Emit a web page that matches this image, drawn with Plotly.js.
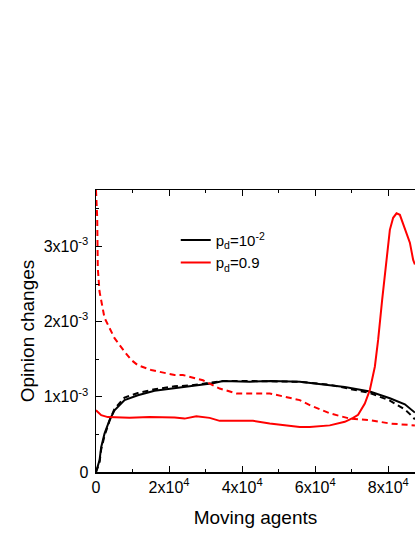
<!DOCTYPE html>
<html>
<head>
<meta charset="utf-8">
<script src="https://cdn.plot.ly/plotly-3.0.1.min.js"></script>
<style>
  html, body { margin: 0; padding: 0; background: #fff; overflow: hidden; }
  #chart { width: 415px; height: 537px; }
</style>
</head>
<body>
<div id="chart"></div>
<script>
// moving agents (x) and opinion changes (x 1e-3)
const xBlack = [0, 960, 1420, 2330, 3700, 5070, 7810, 11450, 16030, 21510, 25620, 32000, 34740, 42050, 48000, 55760, 63980, 68090, 74940, 80420, 84530, 85900, 87270];
const blackSolid = [0, 0.156, 0.33, 0.51, 0.69, 0.82, 0.956, 1.02, 1.08, 1.12, 1.14, 1.18, 1.21, 1.2, 1.21, 1.2, 1.16, 1.13, 1.07, 0.98, 0.9, 0.84, 0.79];
const blackDash = [0, 0.12, 0.3, 0.48, 0.68, 0.84, 0.99, 1.05, 1.10, 1.14, 1.15, 1.19, 1.21, 1.21, 1.21, 1.2, 1.16, 1.12, 1.05, 0.95, 0.83, 0.77, 0.70];

const xRed = [0, 1420, 3230, 9180, 14660, 21510, 24250, 27450, 31100, 33840, 42960, 47540, 55760, 58500, 63980, 68090, 70360, 71730, 73570, 74940, 76310, 77210, 78310, 79510, 80420, 81320, 82250, 83160, 84060, 84990, 85900, 86800, 87270];
const redSolid = [0.82, 0.756, 0.73, 0.72, 0.73, 0.725, 0.71, 0.74, 0.72, 0.68, 0.68, 0.645, 0.6, 0.6, 0.62, 0.667, 0.72, 0.76, 0.91, 1.09, 1.4, 1.756, 2.29, 2.87, 3.22, 3.38, 3.44, 3.42, 3.29, 3.18, 3.05, 2.82, 2.76];

const xRedDash = [0, 330, 490, 960, 2330, 5070, 7810, 9640, 11450, 15120, 21500, 23780, 29260, 33840, 38410, 47540, 55760, 58500, 63980, 69460, 74940, 80420, 87270];
const redDash = [3.75, 3.38, 2.71, 2.4, 2.05, 1.78, 1.6, 1.49, 1.42, 1.356, 1.29, 1.29, 1.22, 1.11, 1.045, 1.045, 0.956, 0.89, 0.78, 0.71, 0.69, 0.645, 0.62];

const xTicks = [0, 20000, 40000, 60000, 80000];
const xTickText = ["0", "2x10<sup>4</sup>", "4x10<sup>4</sup>", "6x10<sup>4</sup>", "8x10<sup>4</sup>"];
const yTicks = [0, 0.001, 0.002, 0.003];
const yTickText = ["0", "1x10<sup>-3</sup>", "2x10<sup>-3</sup>", "3x10<sup>-3</sup>"];

const scale = (arr) => arr.map((v) => v * 1e-3);
const font = "Liberation Sans, Arial, sans-serif";

const traces = [
  { x: xBlack, y: scale(blackSolid), type: "scatter", mode: "lines",
    line: { color: "#000", width: 2 }, name: "p<sub>d</sub>=10<sup>-2</sup>" },
  { x: xRed, y: scale(redSolid), type: "scatter", mode: "lines",
    line: { color: "#ff0000", width: 2 }, name: "p<sub>d</sub>=0.9" },
  { x: xBlack, y: scale(blackDash), type: "scatter", mode: "lines",
    line: { color: "#000", width: 2, dash: "6px,4px" }, showlegend: false },
  { x: xRedDash, y: scale(redDash), type: "scatter", mode: "lines",
    line: { color: "#ff0000", width: 2, dash: "6px,4px" }, showlegend: false },
];

const layout = {
  width: 415, height: 537,
  margin: { l: 96, r: 0, t: 190, b: 65 },
  paper_bgcolor: "#fff", plot_bgcolor: "#fff",
  font: { family: font, size: 16, color: "#000" },
  showlegend: true,
  legend: { x: 0.25, y: 0.88, xanchor: "left", yanchor: "top", bgcolor: "rgba(0,0,0,0)",
    font: { size: 15 }, traceorder: "normal", tracegroupgap: 0 },
  xaxis: {
    range: [0, 87300], showgrid: false, zeroline: false,
    showline: true, linecolor: "#000", linewidth: 1.5, mirror: "ticks",
    ticks: "inside", ticklen: 6, tickcolor: "#000", ticklabelstandoff: 0,
    tickmode: "array", tickvals: xTicks, ticktext: xTickText,
    minor: { tickvals: [10000, 30000, 50000, 70000], ticks: "inside", ticklen: 3, tickcolor: "#000" },
    title: { text: "Moving agents", font: { size: 19 }, standoff: 16 },
  },
  yaxis: {
    range: [0, 0.00375], showgrid: false, zeroline: false,
    showline: true, linecolor: "#000", linewidth: 1.5,
    ticks: "inside", ticklen: 6, tickcolor: "#000", ticklabelstandoff: 3,
    tickmode: "array", tickvals: yTicks, ticktext: yTickText,
    minor: { tickvals: [0.0005, 0.0015, 0.0025, 0.0035], ticks: "inside", ticklen: 3, tickcolor: "#000" },
    title: { text: "Opinion changes", font: { size: 19 }, standoff: 4 },
  },
};

Plotly.newPlot("chart", traces, layout, { displayModeBar: false, staticPlot: true });
</script>
</body>
</html>
